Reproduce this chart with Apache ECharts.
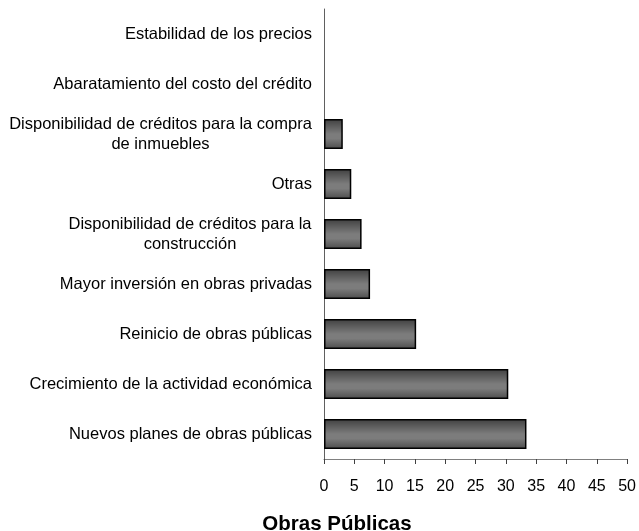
<!DOCTYPE html>
<html>
<head>
<meta charset="utf-8">
<script src="https://cdn.jsdelivr.net/npm/echarts@6/dist/echarts.min.js"></script>
<style>html,body{margin:0;padding:0;background:#fff}#c{width:639px;height:531px}</style>
</head>
<body>
<div id="c"></div>
<script>
var categories = [
  'Nuevos planes de obras públicas',
  'Crecimiento de la actividad económica',
  'Reinicio de obras públicas',
  'Mayor inversión en obras privadas',
  'Disponibilidad de créditos para la\nconstrucción',
  'Otras',
  'Disponibilidad de créditos para la compra\nde inmuebles',
  'Abaratamiento del costo del crédito',
  'Estabilidad de los precios'
];
var values = [33.4, 30.4, 15.2, 7.6, 6.2, 4.5, 3.1, 0, 0];
var xTicks = [0, 5, 10, 15, 20, 25, 30, 35, 40, 45, 50];
var titleText = 'Obras Públicas';

var FONT = '"Liberation Sans", Arial, sans-serif';
var FS = 16.5;
var LH = 20;
var cv = document.createElement('canvas').getContext('2d');
cv.font = FS + 'px ' + FONT;
var rich = {};
var keyOf = {};
categories.forEach(function (c, i) {
  var lines = c.split('\n');
  if (lines.length > 1) {
    var w = 0;
    lines.forEach(function (l) { w = Math.max(w, cv.measureText(l).width); });
    rich['k' + i] = { width: Math.ceil(w), align: 'center', fontSize: FS, fontFamily: FONT, color: '#000', lineHeight: LH };
    keyOf[c] = 'k' + i;
  }
});

var barData = values.map(function (v) {
  return v === 0 ? { value: v, itemStyle: { borderWidth: 0 } } : v;
});

var chart = echarts.init(document.getElementById('c'));
chart.setOption({
  animation: false,
  grid: { left: 324, right: 11, top: 9, bottom: 72, containLabel: false },
  xAxis: {
    type: 'value', min: 0, max: 50, interval: 5,
    axisLine: { show: true, lineStyle: { color: '#808080', width: 1 } },
    axisTick: { show: true, length: 5, inside: false, lineStyle: { color: '#404040' } },
    splitLine: { show: false },
    axisLabel: { color: '#000', fontSize: 16, fontFamily: FONT, margin: 20,
      formatter: function (v) { return xTicks.indexOf(v) >= 0 ? String(v) : ''; } }
  },
  yAxis: {
    type: 'category', data: categories,
    axisLine: { show: true, lineStyle: { color: '#606060', width: 1 } },
    axisTick: { show: false },
    axisLabel: { color: '#000', fontSize: FS, fontFamily: FONT, margin: 12, lineHeight: LH, rich: rich,
      formatter: function (v) {
        var k = keyOf[v];
        if (!k) return v;
        return v.split('\n').map(function (l) { return '{' + k + '|' + l + '}'; }).join('\n');
      } }
  },
  series: [{
    type: 'bar', data: barData, barWidth: '60%',
    itemStyle: {
      color: new echarts.graphic.LinearGradient(0, 0, 0, 1, [
        { offset: 0, color: '#404040' },
        { offset: 0.5, color: '#7c7c7c' },
        { offset: 0.65, color: '#7c7c7c' },
        { offset: 1, color: '#4c4c4c' }
      ]),
      borderColor: '#000', borderWidth: 1.5
    }
  }],
  graphic: [{
    type: 'text', x: 337, y: 514,
    style: { text: titleText, font: 'bold 20.5px ' + FONT, fill: '#000', textAlign: 'center', textVerticalAlign: 'top' }
  }]
});
</script>
</body>
</html>
